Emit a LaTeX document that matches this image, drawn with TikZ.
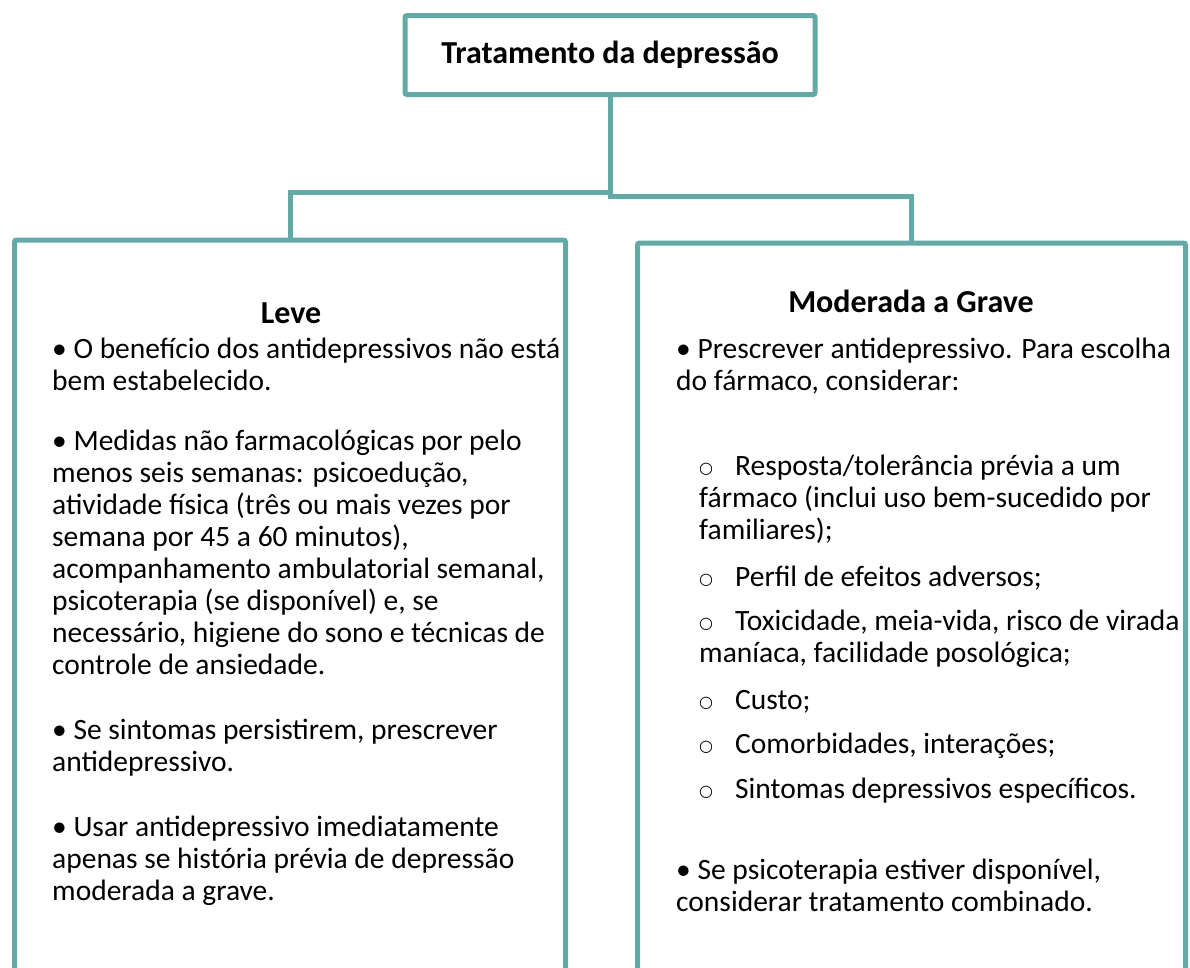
\documentclass[tikz,border=0pt]{standalone}
\usepackage{fontspec}
\setmainfont{Carlito}
\newfontfamily\symfont{DejaVu Sans}
\usetikzlibrary{positioning}
\definecolor{boxline}{RGB}{99,170,167}
\newcommand\sbul{\raisebox{1.5pt}{\symfont\fontsize{16}{32}\selectfont ○}\hspace{22pt}}

\begin{document}
\begin{tikzpicture}[x=1pt, y=-1pt,
  box/.style={draw=boxline, line width=5pt, rounded corners=2pt, inner sep=0pt},
  wire/.style={draw=boxline, line width=5pt},
  txt/.style={anchor=north west, yshift=22.4pt, align=left, inner sep=0pt,
    font=\fontsize{29.5}{32}\selectfont, execute at begin node=\strut},
  head/.style={anchor=base, inner sep=0pt, font=\fontsize{32}{36}\selectfont\bfseries}]
\clip (0,0) rectangle (1190,967);
\useasboundingbox (0,0) rectangle (1190,967);

\node[box, minimum width=410pt, minimum height=79pt, font=\fontsize{32}{36}\selectfont\bfseries] (top) at (610,55) {Tratamento da depressão};
\node[box, minimum width=551pt, minimum height=760pt, anchor=north] (leve) at (290,237.5) {};
\node[box, minimum width=548pt, minimum height=760pt, anchor=north] (grave) at (911.5,240.5) {};

\coordinate (splitL) at (610,192);
\coordinate (splitR) at (610,196);
\draw[wire] (top.south) -- (splitL) -| (leve.north);
\draw[wire] (top.south) -- (splitR) -| (grave.north);

\node[head] (leveT) at (291,323) {Leve};
\node[txt] (l1) at (52,360) {• O benefício dos antidepressivos não está\\bem estabelecido.};
\node[txt] (l2) at (52,452) {• Medidas não farmacológicas por pelo\\menos seis semanas: psicoedução,\\atividade física (três ou mais vezes por\\semana por 45 a 60 minutos),\\acompanhamento ambulatorial semanal,\\psicoterapia (se disponível) e, se\\necessário, higiene do sono e técnicas de\\controle de ansiedade.};
\node[txt] (l3) at (52,741) {• Se sintomas persistirem, prescrever\\antidepressivo.};
\node[txt] (l4) at (52,838) {• Usar antidepressivo imediatamente\\apenas se história prévia de depressão\\moderada a grave.};

\node[head] (graveT) at (911,312) {Moderada a Grave};
\node[txt] (g1) at (676,360) {• Prescrever antidepressivo. Para escolha\\do fármaco, considerar:};
\node[txt] (g2) at (699,477) {\sbul Resposta/tolerância prévia a um\\fármaco (inclui uso bem-sucedido por\\familiares);};
\node[txt] (g3) at (699,586) {\sbul Perfil de efeitos adversos;};
\node[txt] (g4) at (699,632) {\sbul Toxicidade, meia-vida, risco de virada\\maníaca, facilidade posológica;};
\node[txt] (g5) at (699,709) {\sbul Custo;};
\node[txt] (g6) at (699,753) {\sbul Comorbidades, interações;};
\node[txt] (g7) at (699,798) {\sbul Sintomas depressivos específicos.};
\node[txt] (g8) at (676,881) {• Se psicoterapia estiver disponível,\\considerar tratamento combinado.};
\end{tikzpicture}
\end{document}
